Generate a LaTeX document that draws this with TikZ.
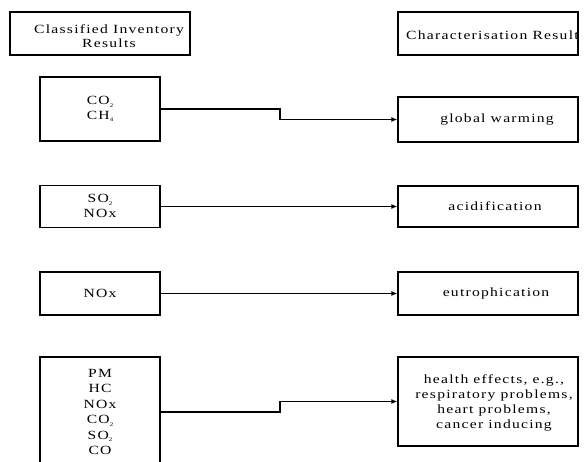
\documentclass[tikz,border=0pt]{standalone}
\usepackage{fontspec}
\setmainfont{Liberation Serif}[LetterSpace=10,FakeStretch=1.25]
\usetikzlibrary{arrows.meta}
\newcommand{\subtwo}[1]{{\fontsize{5.5}{5.5}\selectfont\raisebox{-2.4pt}{#1}}}
\begin{document}
\begin{tikzpicture}[x=1pt,y=-1pt,
  boxshape/.style={draw,line width=1.2pt,inner sep=0pt,rectangle},
  txt/.style={align=center,inner sep=0pt,font=\fontsize{12.5}{14.5}\selectfont},
  conn/.style={line width=1.2pt,-{Latex[length=6pt,width=5pt]}}]
\useasboundingbox (0,0) rectangle (584,462);
% headers
\node[boxshape,minimum width=180pt,minimum height=43pt] (h1) at (100,33.5) {};
\node[txt] (h1t) at (109,36) {Classified Inventory\\Results};
\node[boxshape,minimum width=180pt,minimum height=43pt] (h2) at (488,33.5) {};
\node[txt,anchor=west] (h2t) at (406,35) {Characterisation Result};
% left boxes
\node[boxshape,minimum width=120pt,minimum height=64pt] (b1) at (100,109) {};
\node[txt] (b1t) at (100,109) {CO\subtwo{2}\\CH\subtwo{4}};
\node[boxshape,minimum width=120pt,minimum height=42pt] (b2) at (100,206.5) {};
\node[txt] (b2t) at (100,206) {SO\subtwo{2}\\NOx};
\node[boxshape,minimum width=120pt,minimum height=43pt] (b3) at (100,293.5) {};
\node[txt] (b3t) at (100,293) {NOx};
\node[boxshape,minimum width=120pt,minimum height=110pt] (b4) at (100,412) {};
\node[txt,font=\fontsize{12.5}{15.5}\selectfont] (b4t) at (100,412) {PM\\HC\\NOx\\CO\subtwo{2}\\SO\subtwo{2}\\CO};
% right boxes
\node[boxshape,minimum width=180pt,minimum height=45pt] (r1) at (488,119.5) {};
\node[txt] (r1t) at (497,120) {global warming};
\node[boxshape,minimum width=180pt,minimum height=41pt] (r2) at (488,206.5) {};
\node[txt] (r2t) at (495,206.5) {acidification};
\node[boxshape,minimum width=180pt,minimum height=43pt] (r3) at (488,293.5) {};
\node[txt] (r3t) at (496,293.5) {eutrophication};
\node[boxshape,minimum width=180pt,minimum height=89pt] (r4) at (488,401.5) {};
\node[txt,font=\fontsize{12.5}{15}\selectfont] (r4t) at (494,403) {health effects, e.g.,\\respiratory problems,\\heart problems,\\cancer inducing};
% connectors
\coordinate (m) at (280,0);
\draw[conn] (b1.east) -- (b1.east -| m) |- (r1.west);
\draw[conn] (b2.east) -- (r2.west);
\draw[conn] (b3.east) -- (r3.west);
\draw[conn] (b4.east) -- (b4.east -| m) |- (r4.west);
\end{tikzpicture}
\end{document}
